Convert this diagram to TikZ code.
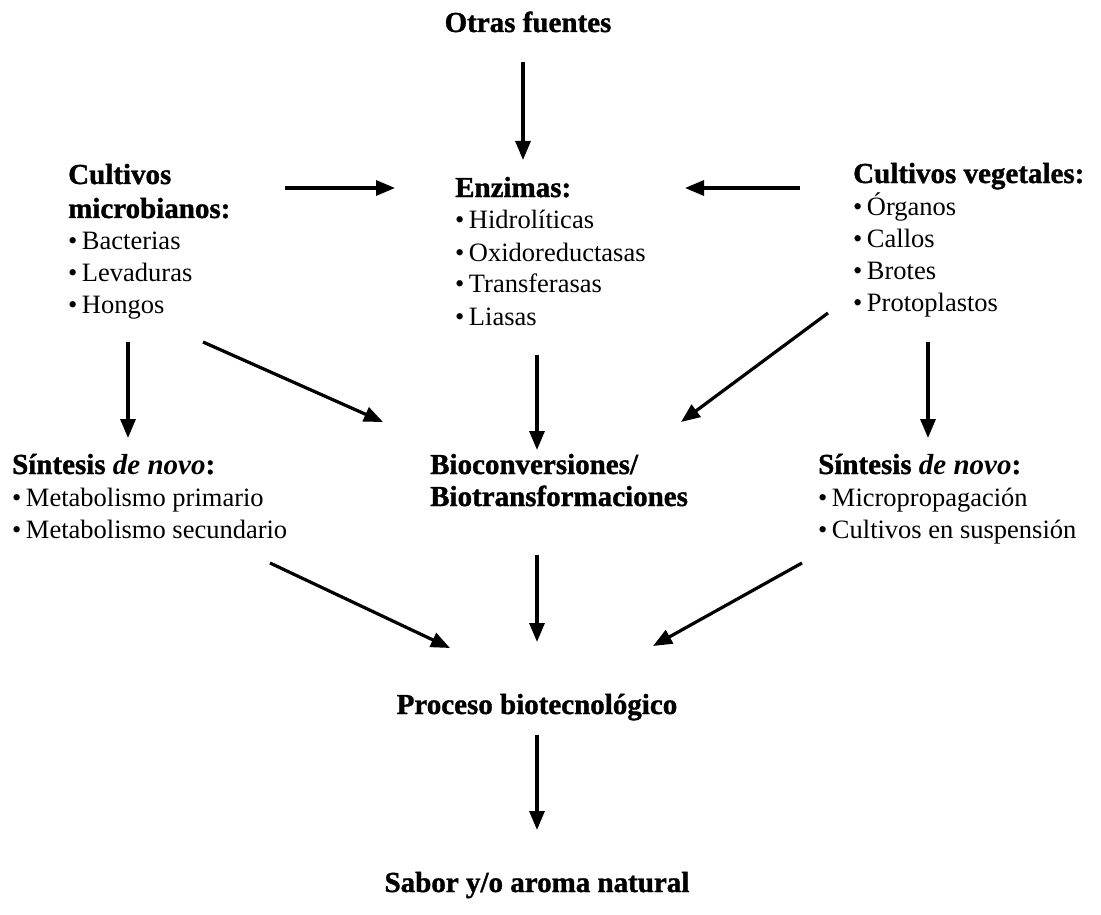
\documentclass[tikz,border=0pt]{standalone}
\usepackage{fontspec}
\setmainfont[BoldFeatures={FakeBold=1.2}]{Liberation Serif}
\usetikzlibrary{arrows.meta}
\newcommand{\hd}[1]{{\fontsize{29}{32}\selectfont\bfseries #1}}
\newcommand{\bl}{\textbullet\kern4.5pt}
\tikzset{
  arr/.style={line width=3.2pt, -{Triangle[length=19pt,width=15pt]}},
  blk/.style={anchor=base west, inner sep=0pt, font=\fontsize{26.5}{32}\selectfont},
  ttl/.style={anchor=base, inner sep=0pt, font=\fontsize{29}{32}\selectfont\bfseries},
}
\begin{document}
\begin{tikzpicture}[x=1pt,y=-1pt]
\useasboundingbox[fill=white] (0,0) rectangle (1101,915);
% nodes
\node[ttl] (otras) at (528,32) {Otras fuentes};
\node[blk] (micro) at (68,184) {\begin{tabular}[t]{@{}l@{}}\hd{Cultivos}\\[2pt]\hd{microbianos:}\\ \bl Bacterias\\ \bl Levaduras\\ \bl Hongos\end{tabular}};
\node[blk] (enz) at (455,197) {\begin{tabular}[t]{@{}l@{}}\hd{Enzimas:}\\ \bl Hidrolíticas\\ \bl Oxidoreductasas\\ \bl Transferasas\\ \bl Liasas\end{tabular}};
\node[blk] (veg) at (853,183) {\begin{tabular}[t]{@{}l@{}}\hd{Cultivos vegetales:}\\ \bl Órganos\\ \bl Callos\\ \bl Brotes\\ \bl Protoplastos\end{tabular}};
\node[blk] (sintL) at (12,474) {\begin{tabular}[t]{@{}l@{}}\hd{Síntesis \textit{de novo}:}\\ \bl Metabolismo primario\\ \bl Metabolismo secundario\end{tabular}};
\node[blk] (bio) at (430,474) {\begin{tabular}[t]{@{}l@{}}\hd{Bioconversiones/}\\ \hd{Biotransformaciones}\end{tabular}};
\node[blk] (sintR) at (818,474) {\begin{tabular}[t]{@{}l@{}}\hd{Síntesis \textit{de novo}:}\\ \bl Micropropagación\\ \bl Cultivos en suspensión\end{tabular}};
\node[ttl] (proc) at (537,714) {Proceso biotecnológico};
\node[ttl] (sabor) at (537,892) {Sabor y/o aroma natural};
% arrow end points
\coordinate (a1s) at (523,62);  \coordinate (a1e) at (523,160);
\coordinate (a2s) at (285,188); \coordinate (a2e) at (395,188);
\coordinate (a3s) at (800,188); \coordinate (a3e) at (685,188);
\coordinate (a4s) at (128,342); \coordinate (a4e) at (128,438);
\coordinate (a5s) at (203,342); \coordinate (a5e) at (383,422);
\coordinate (a6s) at (537,355); \coordinate (a6e) at (537,450);
\coordinate (a7s) at (828,313); \coordinate (a7e) at (681,422);
\coordinate (a8s) at (928,342); \coordinate (a8e) at (928,438);
\coordinate (a9s) at (270,563); \coordinate (a9e) at (450,648);
\coordinate (a10s) at (537,555); \coordinate (a10e) at (537,642);
\coordinate (a11s) at (802,563); \coordinate (a11e) at (653,646);
\coordinate (a12s) at (537,735); \coordinate (a12e) at (537,830);
% arrows
\foreach \i in {1,...,12} \draw[arr] (a\i s) -- (a\i e);
\end{tikzpicture}
\end{document}
